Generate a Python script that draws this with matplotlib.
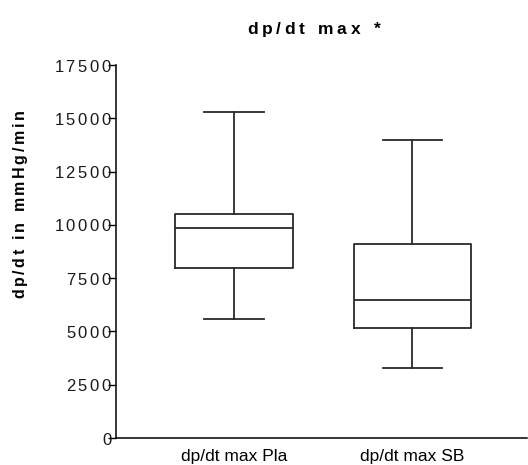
import matplotlib.pyplot as plt

plt.rcParams['font.family'] = ['Liberation Sans', 'DejaVu Sans']
plt.rcParams['mathtext.fontset'] = 'custom'
plt.rcParams['mathtext.rm'] = 'Liberation Sans'
plt.rcParams['mathtext.bf'] = 'Liberation Sans:bold'

# Box summaries per group (mmHg/min)
groups = ["dp/dt max Pla", "dp/dt max SB"]
whisker_low = [5600, 3300]
quartile_1 = [8000, 5150]
medians = [9850, 6500]
quartile_3 = [10500, 9100]
whisker_high = [15300, 14000]

y_ticks = [0, 2500, 5000, 7500, 10000, 12500, 15000, 17500]


def spaced(s, gap=r"\,", style="mathrm"):
    # letter-spaced label built with mathtext spacing commands
    parts = []
    for ch in s:
        if ch == " ":
            parts.append(r"\ ")
        else:
            parts.append("{" + ch + "}")
    return "$\\" + style + "{" + gap.join(parts) + "}$"


stats = []
for i, name in enumerate(groups):
    stats.append({
        "label": name,
        "whislo": whisker_low[i],
        "q1": quartile_1[i],
        "med": medians[i],
        "q3": quartile_3[i],
        "whishi": whisker_high[i],
    })

fig = plt.figure(figsize=(5.28, 4.65), dpi=100)
ax = fig.add_axes([0.2197, 0.058, 0.778, 0.802])

line_style = dict(color="#2a2a2a", linewidth=1.3)
ax.bxp(stats, positions=[1, 2], widths=0.66, showfliers=False,
       boxprops=line_style, whiskerprops=line_style, capprops=line_style,
       medianprops=line_style, capwidths=0.335)

ax.set_xlim(0.34, 2.64)
ax.set_ylim(0, 17500)
ax.set_yticks(y_ticks)
ax.set_yticklabels([spaced(str(v)) for v in y_ticks], fontsize=12,
                   color="#1a1a1a")
ax.tick_params(axis="y", direction="out", length=5.5, width=1, pad=-3)
ax.tick_params(axis="x", length=0, pad=8, labelsize=12.5)

for side in ("top", "right"):
    ax.spines[side].set_visible(False)
ax.spines["left"].set_linewidth(1.1)
ax.spines["bottom"].set_linewidth(1.1)

fig.text(0.595, 0.936, spaced("dp/dt max *", r"\:", "mathbf"), ha="center",
         va="center", fontsize=12.5)
fig.text(0.038, 0.56, spaced("dp/dt in mmHg/min", r"\,", "mathbf"), ha="center",
         va="center", rotation=90, fontsize=11.5)

fig.savefig("out.png", dpi=100)
